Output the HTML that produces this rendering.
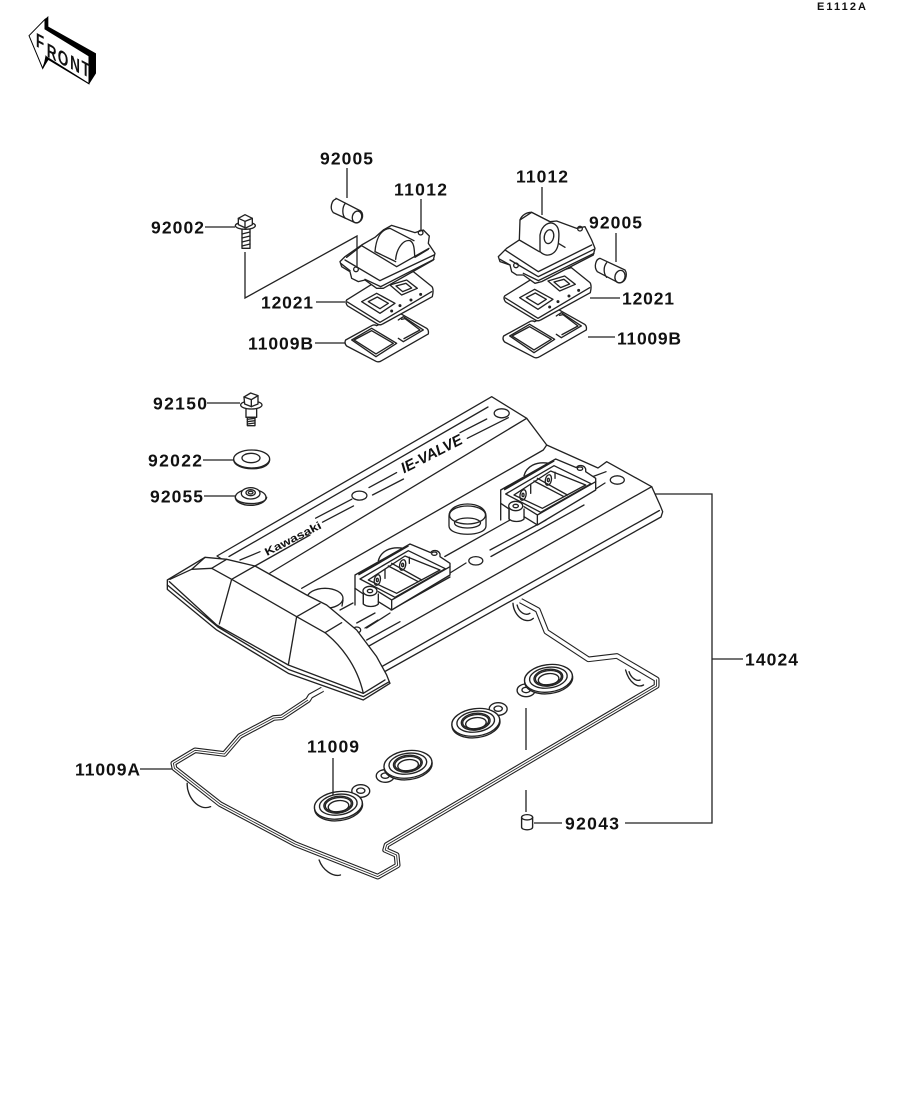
<!DOCTYPE html>
<html><head><meta charset="utf-8"><style>
html,body{margin:0;padding:0;background:#fff}
svg{display:block}
text{font-family:"Liberation Sans",sans-serif;fill:#111}
.l{font-size:17.5px;font-weight:700}
.s{fill:#fff;stroke:#222;stroke-width:4;stroke-linejoin:round;stroke-linecap:round}
.n{fill:none;stroke:#222;stroke-width:4;stroke-linejoin:round;stroke-linecap:round}
.t{fill:#fff;stroke:#222;stroke-width:4;stroke-linejoin:round;stroke-linecap:round}
.u{fill:none;stroke:#222;stroke-width:4;stroke-linejoin:round;stroke-linecap:round}
.o{fill:none;stroke:#222;stroke-width:1.3;stroke-linejoin:round;stroke-linecap:round}
.of{fill:#fff;stroke:#222;stroke-width:1.3;stroke-linejoin:round;stroke-linecap:round}
.ld{fill:none;stroke:#222;stroke-width:1.3}
.f{font-size:20px;font-weight:700}
</style></head><body>
<svg width="914" height="1103" viewBox="0 0 914 1103" xmlns="http://www.w3.org/2000/svg">
<rect width="914" height="1103" fill="#fff"/>
<defs>
<g id="seal">
<g transform="rotate(-8)">
<ellipse cx="0" cy="4" rx="70" ry="42" class="s"/>
<ellipse cx="0" cy="0" rx="70" ry="41" class="s"/>
<ellipse cx="0" cy="-2" rx="55" ry="31" class="n"/>
<ellipse cx="0" cy="-2" rx="42" ry="25" class="n"/>
<ellipse cx="0" cy="-2" rx="38" ry="21" class="n"/>
<ellipse cx="0" cy="3" rx="30" ry="17" class="n"/>
</g>
</g>
<g id="tab">
<ellipse cx="0" cy="0" rx="26" ry="19" class="s"/>
<ellipse cx="0" cy="-1" rx="12" ry="8" class="n"/>
</g>
<g id="vc">
<path class="n" d="M115,92C122,65 150,48 190,55"/>
<path class="s" d="M45,135L210,42L272,68C278,58 296,60 300,72L300,80L330,100V135L155,240L115,215V222C105,232 80,232 70,222V192L45,175Z"/>
<path class="n" d="M45,175V225"/>
<path class="n" d="M60,147L205,62L316,116L165,202Z"/>
<path class="n" d="M85,150L195,78L300,120L170,190Z"/>
<path class="n" d="M145,108L235,155M155,100L245,150"/>
<path d="M55,134L205,47" stroke="#222" stroke-width="6" fill="none"/>
<path class="n" d="M155,210V240M115,185L155,210L330,110M70,185V222M115,192V215"/>
<ellipse cx="90" cy="183" rx="21" ry="14" class="s"/>
<ellipse cx="90" cy="183" rx="8" ry="5" class="n"/>
<ellipse cx="283" cy="71" rx="8" ry="5" class="n"/>
<ellipse cx="112" cy="150" rx="9" ry="16" class="n" transform="rotate(12 112 150)"/>
<ellipse cx="112" cy="150" rx="3" ry="5" class="n"/>
<ellipse cx="188" cy="105" rx="9" ry="16" class="n" transform="rotate(12 188 105)"/>
<ellipse cx="188" cy="105" rx="3" ry="5" class="n"/>
<path class="n" d="M135,118V145M208,82V100"/>
</g>
<g id="pk">
<path class="t" d="M347,570L425,527Q432,523 440,527L510,490L590,535Q597,540 595,552L455,632Q447,638 438,634L350,588Q342,580 347,570Z"/>
<path class="u" d="M365,570L425,535L500,580L438,620Z"/>
<path class="u" d="M372,570L425,542L490,580L438,612Z"/>
<path class="u" d="M505,510L520,500L580,540L520,575L505,565"/>
<path class="u" d="M515,508L525,506L570,540L522,566"/>
<path class="t" d="M350,450L430,400L550,365L606,410Q612,418 607,440L458,522Q450,527 442,522L353,468Q345,458 350,450Z"/>
<path class="u" d="M352,456L450,517L605,425"/>
<path class="u" d="M395,455L440,430L495,460L450,490Z"/>
<path class="u" d="M415,455L442,441L475,460L450,476Z"/>
<path class="u" d="M480,405L530,390L562,415L515,435Z"/>
<path class="u" d="M498,408L528,400L545,414L518,425Z"/>
<circle cx="485" cy="483" r="4.5" fill="#222"/><circle cx="510" cy="467" r="4.5" fill="#222"/>
<circle cx="543" cy="450" r="4.5" fill="#222"/><circle cx="572" cy="433" r="4.5" fill="#222"/>
</g>
</defs>

<!-- FRONT arrow -->
<g transform="translate(15,5) scale(.3333)">
<path fill="#000" d="M82,50L100,33V65L243,145V205L222,238L100,165L83,192Z"/>
<path fill="#fff" stroke="#000" stroke-width="3" d="M42,92L90,43V72L222,153V236L95,156L83,190Z"/>
<path fill="#000" d="M92,150L100,162L84,192Z"/>
</g>
<text class="f" transform="translate(40,48.5) skewY(28) scale(.68,1)" text-anchor="middle">F</text>
<text class="f" transform="translate(51.7,59) skewY(28) scale(.68,1)" text-anchor="middle">R</text>
<text class="f" transform="translate(63,65) skewY(28) scale(.68,1)" text-anchor="middle">O</text>
<text class="f" transform="translate(75,71) skewY(28) scale(.68,1)" text-anchor="middle">N</text>
<text class="f" transform="translate(85.7,76) skewY(28) scale(.68,1)" text-anchor="middle">T</text>
<text x="817" y="10" textLength="49" style="font-size:11px;font-weight:700">E1112A</text>

<!-- Left small assembly -->
<g transform="translate(230,150) scale(.3333)">
<use href="#pk"/>
<path class="s" d="M330,335L345,320L395,285L435,262L460,240L485,226L555,248L580,240L598,258L595,280L615,310L610,330L460,415L440,415L405,390L385,395L365,385L360,365L335,350Z"/>
<path class="u" d="M350,322L395,287L500,350L597,295M332,340L360,362M345,330L450,392L612,315M405,388L452,410L612,328"/>
<path class="u" d="M435,305C438,270 450,238 480,235L552,272M497,328C500,295 520,268 540,272C556,280 552,310 555,322M435,305L497,335M555,322L595,298"/>
<circle cx="378" cy="358" r="7" class="u"/><circle cx="572" cy="248" r="7" class="u"/>
<path class="t" d="M318,145L392,183C405,195 395,222 375,218L310,188C298,175 305,150 318,147Z"/>
<ellipse cx="381" cy="201" rx="14" ry="18" class="u" transform="rotate(15 381 201)"/>
<path class="u" d="M346,160C336,172 336,195 346,205"/>
<path class="t" d="M36,235H60V295H36Z"/>
<path class="u" d="M36,252L60,246M36,264L60,258M36,276L60,270M36,288L60,282"/>
<ellipse cx="46" cy="227" rx="30" ry="11" class="t"/>
<path class="t" d="M25,205L45,194L67,205V224L47,234L25,224Z"/>
<path class="u" d="M25,205L45,214L67,205M45,214V234"/>
</g>

<!-- Right small assembly -->
<g transform="translate(158,-4)"><g transform="translate(230,150) scale(.3333)"><use href="#pk"/></g></g>
<g transform="translate(490,160) scale(.3333)">
<path class="s" d="M25,290L50,265L88,240L90,180L125,157L180,185L200,183L260,205L285,200L305,240L315,265L310,285L155,365L135,370L100,345L80,345L65,335L60,315L30,305Z"/>
<path class="u" d="M45,270L145,335L305,255M30,298L60,315M60,300L145,350L312,268M100,340L145,362L312,280M88,240L148,275M205,250L225,262"/>
<path class="u" d="M90,180C95,165 110,157 125,157L180,185"/>
<path class="t" d="M150,275V225C155,195 180,180 197,195C210,205 207,232 205,250C200,285 170,295 150,275Z"/>
<ellipse cx="177" cy="230" rx="14" ry="21" class="u" transform="rotate(12 177 230)"/>
<circle cx="78" cy="316" r="7" class="u"/><circle cx="270" cy="206" r="7" class="u"/>
<path class="t" d="M330,295L405,330C415,345 405,372 385,368L322,335C310,320 318,297 330,295Z"/>
<ellipse cx="390" cy="350" rx="15" ry="19" class="u" transform="rotate(15 390 350)"/>
<path class="u" d="M350,308C340,320 340,340 350,352"/>
</g>

<!-- Gasket, seals and pin -->
<g transform="translate(140,590) scale(.3444,.3333)">
<path class="n" d="M137,580C135,620 170,665 205,650M520,810C530,840 560,862 582,855M1083,40C1085,78 1120,105 1142,85M1095,45C1100,68 1120,78 1132,70M1410,240C1420,278 1445,295 1462,285M1420,245C1425,262 1440,275 1452,270"/>
<path fill="none" stroke="#222" stroke-width="17" stroke-linejoin="round" d="M530,298L495,318L488,330L412,382L388,384L290,438L245,492L160,481L97,520L100,535L232,642L450,762L690,860L748,826L745,795L712,780L716,765L1500,288L1500,268L1385,198L1302,208L1180,125L1155,60L1105,32"/>
<path fill="none" stroke="#fff" stroke-width="10.5" stroke-linejoin="round" d="M530,298L495,318L488,330L412,382L388,384L290,438L245,492L160,481L97,520L100,535L232,642L450,762L690,860L748,826L745,795L712,780L716,765L1500,288L1500,268L1385,198L1302,208L1180,125L1155,60L1105,32"/>
<path fill="none" stroke="#222" stroke-width="2.5" stroke-linejoin="round" d="M488,330L412,382L388,384L290,438L245,492L160,481L97,520L100,535L232,642L450,762L690,860L748,826L745,795L712,780L716,765L1500,288L1500,268"/>
<use href="#tab" x="641" y="603"/><use href="#seal" x="576" y="646"/>
<use href="#tab" x="712" y="558"/><use href="#seal" x="778" y="523"/>
<use href="#tab" x="1040" y="357"/><use href="#seal" x="975" y="397"/>
<use href="#tab" x="1121" y="301"/><use href="#seal" x="1186" y="265"/>
<path class="t" d="M1108,682V712C1110,722 1138,722 1140,712V682Z"/>
<ellipse cx="1124" cy="682" rx="16" ry="8" class="t"/>
</g>

<!-- Cover body -->
<path class="of" d="M491.7,396.7L526.7,418.3L546.7,445L598,468L606.7,461.7L651.7,486.7L660,505L662.7,511.7L661,517L384,672L375,660L217,556Z"/>
<g class="o">
<path class="o" d="M229,556.5L488,407"/>
<path class="o" d="M526.7,418.3L270,573"/>
<path class="o" d="M546.7,445L543.3,450L301.7,588.3"/>
<path class="o" d="M240,560L260,551.7M255,566L310,535M315.6,518.2L351.8,499.2M369,487.6L396.6,472.6M460,432.7L486.7,419M322.5,522.2L353.5,505.9M372.5,495L403.5,479M467.3,438.3L508.3,417.7"/>
<path class="o" d="M651.7,486.7L369,646M659.4,510.5L381,667M444.8,556.5L510,520M450,573L466,563M490,550L546,520M491,556.5L584,505M591.7,477L606,471.7M594,490L605,483M366.7,628L390,613M356.7,623L375,613M340,610L353,603M365,628L378,620M366.7,640L400,621.7M391,610L450,577"/>
<ellipse class="o" cx="501.7" cy="413.3" rx="7.5" ry="4.5"/>
<ellipse class="o" cx="359.4" cy="495.6" rx="7.5" ry="4.5"/>
<ellipse class="o" cx="475.8" cy="560.8" rx="7" ry="4.2"/>
<ellipse class="o" cx="617.3" cy="480" rx="7" ry="4.2"/>
<ellipse class="o" cx="356.7" cy="630" rx="4" ry="3"/>
</g>
<!-- valves -->
<g transform="translate(340,530) scale(.3333)"><use href="#vc"/></g>
<g transform="translate(485.7,445) scale(.3333)"><use href="#vc"/></g>
<!-- oil rings -->
<path class="of" d="M449,516C449,500 486,500 486,516V526C486,537 449,537 449,526Z"/>
<ellipse class="o" cx="467.5" cy="515" rx="18" ry="9"/>
<ellipse class="o" cx="467.5" cy="523" rx="13" ry="5"/>
<ellipse class="of" cx="325" cy="598.3" rx="18" ry="10"/>
<path class="o" d="M343,600L342,606"/>
<!-- dome -->
<g transform="translate(160,540) scale(.3333)">
<path class="s" d="M135,52L200,58L285,78L440,165L500,195L590,270L650,350L680,405L690,430L610,480L385,400L170,270L22,148V120Z"/>
<path class="n" d="M28,125L170,255L385,375L610,460L675,420M22,135L175,262L385,388L610,470L688,425"/>
<path class="n" d="M30,118L95,88L155,85L215,118L410,230L495,278C535,310 590,370 610,460"/>
<path class="n" d="M135,52L95,88M200,58L155,85M285,78L215,118M480,190L410,230M215,118L178,252M410,230L385,375M495,278L545,248"/>
</g>
<text transform="translate(267,556) rotate(-27)" textLength="62" lengthAdjust="spacingAndGlyphs" style="font-size:11px;font-weight:700">Kawasaki</text>
<text transform="translate(404,473.5) rotate(-27)" textLength="67" lengthAdjust="spacingAndGlyphs" style="font-size:15px;font-weight:700;font-style:italic">IE-VALVE</text>

<!-- Leaders -->
<g class="ld">
<path class="ld" d="M347,168V198M421,199V230M205,227H235M245,252V298L357,236V268M316,302H345M315,343H345"/>
<path class="ld" d="M542,187V215M616,233V262M590,298H620M588,337H615"/>
<path class="ld" d="M207,403H240M203,460H234M204,496H236"/>
<path class="ld" d="M655,494H712V823H625M712,659H743M140,769H172"/>
<path class="ld" d="M333,758V795M526,708V750M526,790V812M534,823H562"/>
</g>

<!-- Hardware -->
<g transform="translate(140,385) scale(.3333)">
<path class="t" d="M318,68H350V97H318Z"/>
<path class="t" d="M322,97H345V122H322Z"/>
<path class="u" d="M322,103L345,100M322,110L345,107M322,117L345,114"/>
<ellipse cx="334" cy="60" rx="32" ry="12" class="t"/>
<path class="t" d="M312,36L332,24L354,32V57L334,65L314,57Z"/>
<path class="u" d="M312,36L334,44L354,32M334,44V65"/>
<ellipse cx="335" cy="222" rx="54" ry="27" class="t"/>
<path class="u" d="M281,225C283,258 387,262 389,225"/>
<ellipse cx="333" cy="219" rx="27" ry="14" class="u"/>
<ellipse cx="332" cy="337" rx="46" ry="24" class="t"/>
<path class="u" d="M286,337C290,362 378,362 380,337"/>
<ellipse cx="332" cy="325" rx="28" ry="17" class="t"/>
<ellipse cx="332" cy="323" rx="14" ry="9" class="u"/>
<ellipse cx="332" cy="323" rx="7" ry="4" class="u"/>
</g>

<!-- Labels -->
<text class="l" x="320" y="164.5" textLength="53">92005</text>
<text class="l" x="394" y="195.5" textLength="53">11012</text>
<text class="l" x="151" y="233.5" textLength="53">92002</text>
<text class="l" x="261" y="308.5" textLength="52">12021</text>
<text class="l" x="248" y="349.5" textLength="65">11009B</text>
<text class="l" x="516" y="182.5" textLength="52">11012</text>
<text class="l" x="589" y="228.5" textLength="53">92005</text>
<text class="l" x="622" y="304.5" textLength="52">12021</text>
<text class="l" x="617" y="344.5" textLength="64">11009B</text>
<text class="l" x="153" y="409.5" textLength="54">92150</text>
<text class="l" x="148" y="466.5" textLength="54">92022</text>
<text class="l" x="150" y="502.5" textLength="53">92055</text>
<text class="l" x="745" y="665.5" textLength="53">14024</text>
<text class="l" x="307" y="752.5" textLength="52">11009</text>
<text class="l" x="75" y="775.5" textLength="65">11009A</text>
<text class="l" x="565" y="829.5" textLength="54">92043</text>
</svg>
</body></html>
